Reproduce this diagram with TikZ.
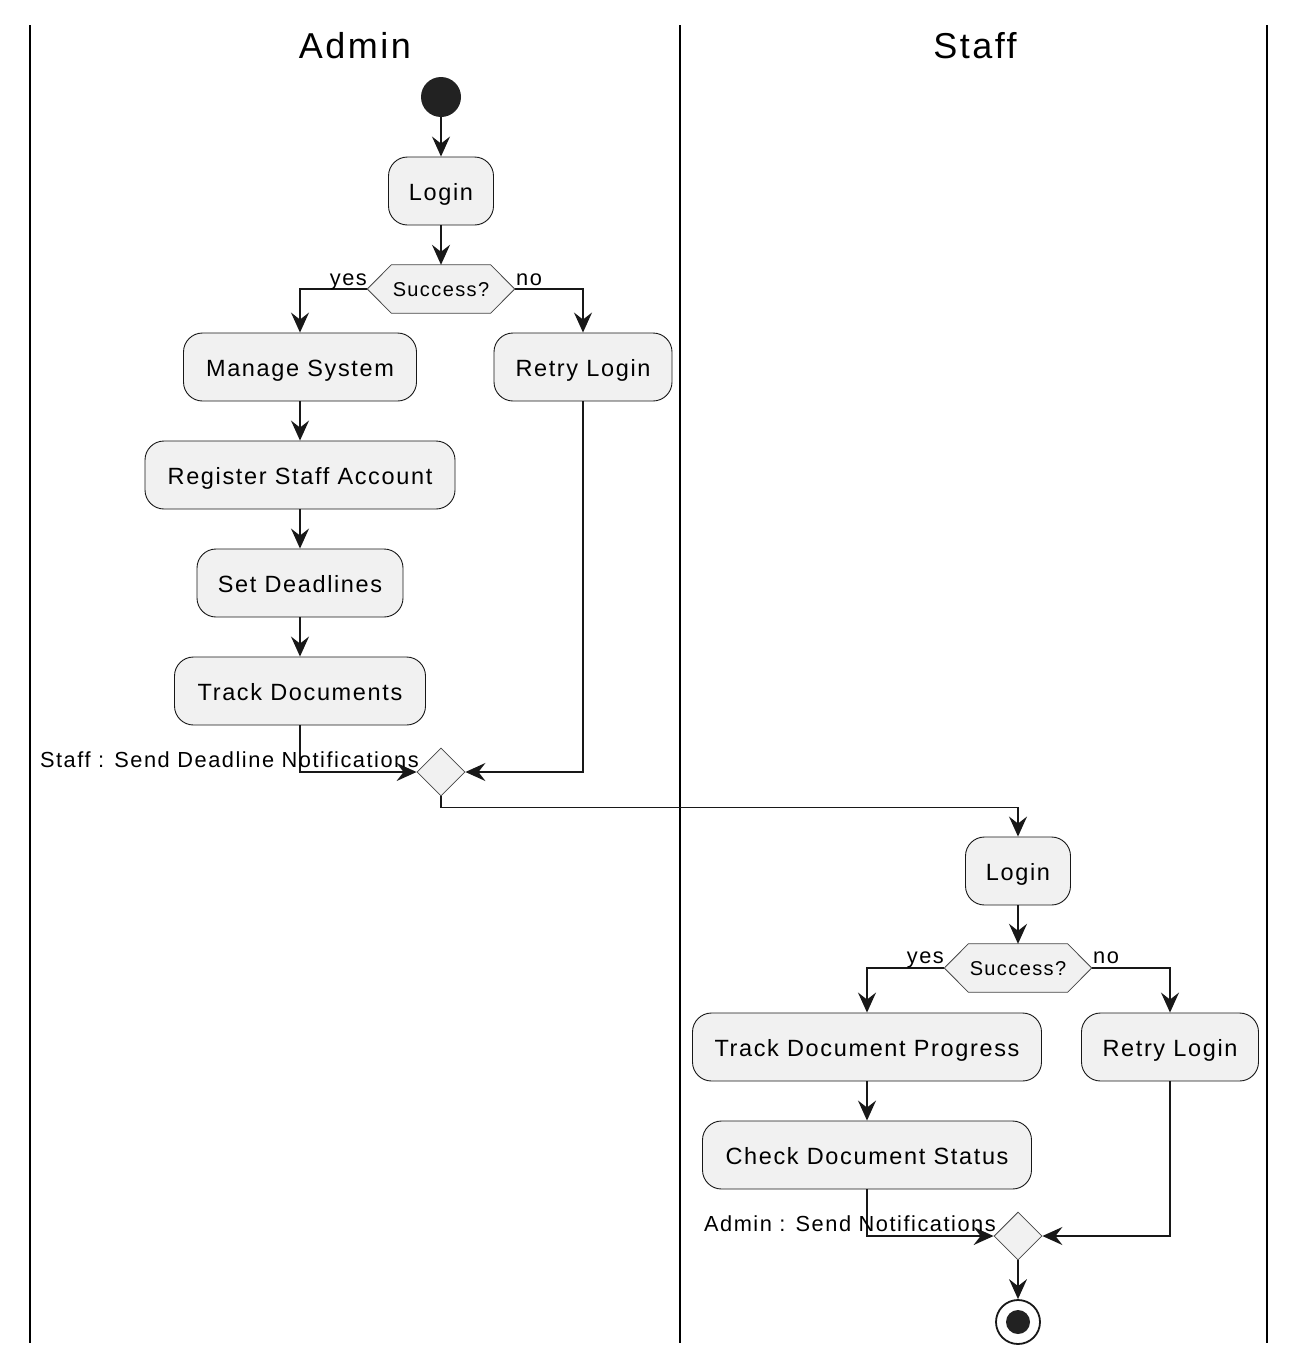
\documentclass[tikz,border=0pt]{standalone}
\usepackage{fontspec}
\newfontfamily\umlfont[LetterSpace=7]{Liberation Sans}
\usetikzlibrary{arrows.meta,shapes.geometric,backgrounds}
\definecolor{ink}{HTML}{181818}
\definecolor{boxfill}{HTML}{F1F1F1}
\definecolor{dot}{HTML}{222222}
\begin{document}
\begin{tikzpicture}[x=1pt,y=-1pt,
  lane/.style={draw=black, line width=2.6pt},
  lanetitle/.style={anchor=base, inner sep=0pt, font=\umlfont\fontsize{36}{40}\selectfont},
  act/.style={draw=ink, line width=0.9pt, fill=boxfill, rounded corners=19pt,
    minimum height=68pt, inner sep=0pt, text height=18pt, text depth=0pt,
    font=\umlfont\fontsize{23.5}{27}\selectfont},
  decide/.style={minimum width=147pt, minimum height=48pt, inner sep=0pt,
    text height=15.4pt, text depth=0pt, font=\umlfont\fontsize{20}{23}\selectfont},
  hexa/.style={draw=ink!80, fill=boxfill, line width=0.8pt},
  merge/.style={diamond, draw=ink!80, fill=boxfill, line width=0.8pt,
    minimum width=48pt, minimum height=48pt, inner sep=0pt},
  startdot/.style={circle, fill=dot, minimum size=40pt, inner sep=0pt},
  endring/.style={circle, draw=ink, line width=1.8pt, fill=white, minimum size=44pt, inner sep=0pt},
  enddot/.style={circle, fill=dot, minimum size=24pt, inner sep=0pt},
  flow/.style={draw=ink, line width=1.6pt, -{Stealth[length=20pt,width=18pt,inset=7pt]}},
  tag/.style={inner sep=0pt, font=\umlfont\fontsize{21.8}{25}\selectfont}
]
\begin{scope}[on background layer]
  \fill[white] (0,0) rectangle (1306,1368);
\end{scope}
\useasboundingbox (0,0) rectangle (1306,1368);

% swimlanes
\draw[lane] (30,25) -- (30,1343);
\draw[lane] (680,25) -- (680,1343);
\draw[lane] (1267,25) -- (1267,1343);
\node[lanetitle] (titleA) at (355,58) {Admin};
\node[lanetitle] (titleS) at (975,58) {Staff};

% Admin lane
\node[startdot] (start) at (441,97) {};
\node[act, minimum width=105pt] (loginA) at (441,191) {Login};
\node[decide] (decA) at (441,289) {Success?};
\node[act, minimum width=233pt] (manage) at (300,367) {Manage System};
\node[act, minimum width=178pt] (retryA) at (583,367) {Retry Login};
\node[act, minimum width=310pt] (register) at (300,475) {Register Staff Account};
\node[act, minimum width=206pt] (deadlines) at (300,583) {Set Deadlines};
\node[act, minimum width=251pt] (trackDocs) at (300,691) {Track Documents};
\node[merge] (mergeA) at (441,772) {};

% Staff lane
\node[act, minimum width=105pt] (loginS) at (1018,871) {Login};
\node[decide] (decS) at (1018,968) {Success?};
\node[act, minimum width=349pt] (trackProg) at (867,1047) {Track Document Progress};
\node[act, minimum width=177pt] (retryS) at (1170,1047) {Retry Login};
\node[act, minimum width=329pt] (checkStatus) at (867,1155) {Check Document Status};
\node[merge] (mergeS) at (1018,1236) {};
\node[endring] (endS) at (1018,1322) {};
\node[enddot] (endDot) at (endS) {};

% hexagonal decision outlines behind their texts
\begin{scope}[on background layer]
  \foreach \d in {decA,decS}
    \filldraw[hexa] (\d.west) -- ([xshift=24]\d.north west) -- ([xshift=-24]\d.north east)
      -- (\d.east) -- ([xshift=-24]\d.south east) -- ([xshift=24]\d.south west) -- cycle;
\end{scope}

% flows
\draw[flow] (start) -- (loginA);
\draw[flow] (loginA) -- (decA);
\draw[flow] (decA.west) -| (manage);
\draw[flow] (decA.east) -| (retryA);
\draw[flow] (manage) -- (register);
\draw[flow] (register) -- (deadlines);
\draw[flow] (deadlines) -- (trackDocs);
\draw[flow] (trackDocs) |- (mergeA);
\draw[flow] (retryA) |- (mergeA);
\draw[flow] (mergeA.south) -- ++(0,11) -| (loginS);
\draw[flow] (loginS) -- (decS);
\draw[flow] (decS.west) -| (trackProg);
\draw[flow] (decS.east) -| (retryS);
\draw[flow] (trackProg) -- (checkStatus);
\draw[flow] (checkStatus) |- (mergeS);
\draw[flow] (retryS) |- (mergeS);
\draw[flow] (mergeS) -- (endS);

% branch and flow labels
\node[tag, anchor=base east] (yesA) at (367,285) {yes};
\node[tag, anchor=base west] (noA) at (516,285) {no};
\node[tag, anchor=base east] (yesS) at (944,963) {yes};
\node[tag, anchor=base west] (noS) at (1093,963) {no};
\node[tag, anchor=base east] (noteA) at (419,767) {Staff : Send Deadline Notifications};
\node[tag, anchor=base east] (noteS) at (996,1231) {Admin : Send Notifications};
\end{tikzpicture}
\end{document}
